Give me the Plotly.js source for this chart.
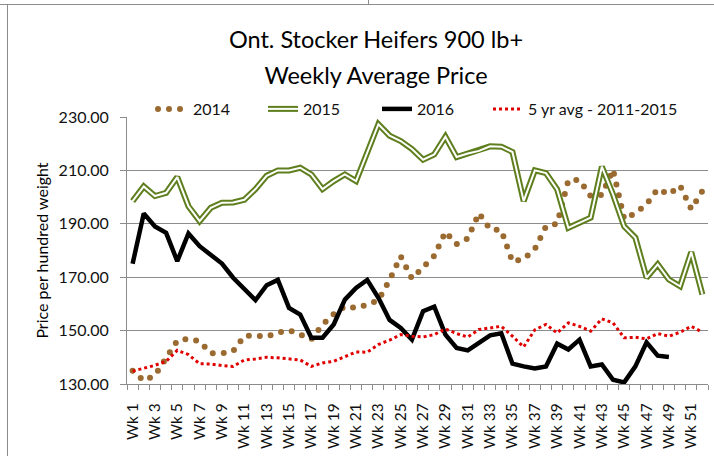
<!DOCTYPE html>
<html>
<head>
<meta charset="utf-8">
<script src="https://cdn.plot.ly/plotly-3.0.1.min.js"></script>
<style>
  html, body { margin: 0; padding: 0; background: #fff; }
  #wrap { position: relative; width: 714px; height: 456px; overflow: hidden; }
  #chart { position: absolute; left: 0; top: 0; width: 714px; height: 456px; }
  .frame-top { position: absolute; left: 0; top: 4px; width: 714px; height: 0; border-top: 1px solid #8c8c8c; }
  .frame-left { position: absolute; left: 7px; top: 4px; width: 0; height: 452px; border-left: 1px solid #8c8c8c; }
  .frame-tick { position: absolute; left: 368px; top: 0; width: 0; height: 4px; border-left: 1px solid #8c8c8c; }
  path[style*="stroke-dasharray: 0px"] { stroke-linecap: round; }
</style>
</head>
<body>
<div id="wrap">
  <div id="chart"></div>
  <div class="frame-top"></div>
  <div class="frame-left"></div>
  <div class="frame-tick"></div>
</div>
<script>
const weeks = ["Wk 1","Wk 2","Wk 3","Wk 4","Wk 5","Wk 6","Wk 7","Wk 8","Wk 9","Wk 10",
  "Wk 11","Wk 12","Wk 13","Wk 14","Wk 15","Wk 16","Wk 17","Wk 18","Wk 19","Wk 20",
  "Wk 21","Wk 22","Wk 23","Wk 24","Wk 25","Wk 26","Wk 27","Wk 28","Wk 29","Wk 30",
  "Wk 31","Wk 32","Wk 33","Wk 34","Wk 35","Wk 36","Wk 37","Wk 38","Wk 39","Wk 40",
  "Wk 41","Wk 42","Wk 43","Wk 44","Wk 45","Wk 46","Wk 47","Wk 48","Wk 49","Wk 50",
  "Wk 51","Wk 52"];

const price2014 = [135, 131.2, 133.2, 139.9, 146.2, 147, 146, 141.5, 141.5, 142.3,
  148, 148.1, 147.7, 149.2, 150.1, 148.5, 146.7, 152.2, 156.2, 159.1,
  158.5, 159.7, 161.4, 168.9, 177.8, 169.5, 174, 178, 187, 182.4,
  184.5, 194, 188, 187.6, 175.8, 176.8, 180.5, 189, 190.1, 206.3,
  206.4, 200.4, 200.8, 210.3, 191.8, 194, 197.3, 203, 201, 204.3,
  195.5, 202.3];

const price2015 = [198.5, 204, 200.4, 201.6, 207.5, 196.6, 191, 196, 197.9, 198,
  199, 203, 208, 210, 210, 211, 208.5, 203, 206, 208.5,
  206, 216.6, 227.3, 223, 221, 218, 214, 216, 222.6, 215,
  216.3, 217.3, 219, 218.9, 216.9, 198.5, 210, 209, 202.9, 188.5,
  190.4, 192.3, 211.4, 201, 189, 184.8, 169.8, 174.8, 169.1, 166.6,
  179.4, 163.5];

const price2016 = [175, 193.9, 189, 186.6, 176, 186.4, 181.6, 178.3, 175.1, 169.8,
  165.6, 161.4, 167, 169, 158.5, 156, 147.3, 147.3, 152.3, 161.6,
  166, 169, 162.3, 154, 151, 146.6, 157.3, 159, 148.5, 143.5,
  142.6, 145.4, 148.2, 149, 137.6, 136.6, 135.8, 136.6, 145.1, 142.9,
  146.6, 136.6, 137.3, 131.6, 130.6, 136.6, 145.6, 140.6, 140.1];

const avg5yr = [134.8, 136, 137, 138.5, 142.6, 141, 137.6, 137.5, 136.9, 136.6,
  139, 139.4, 140, 139.8, 139.4, 139, 136.6, 137.9, 138.5, 140.4,
  142, 141.9, 144.8, 146.4, 148.5, 147.9, 147.6, 148.5, 150.6, 148.9,
  147.6, 150.4, 151, 151.6, 147.9, 143.9, 150.3, 152.3, 149.1, 152.9,
  151.6, 149.8, 154.4, 152.9, 147.3, 147.5, 146.9, 148.9, 147.9, 149.4,
  151.6, 149.4];

const seriesNames = ["2014", "2015", "2016", "5 yr avg - 2011-2015"];
const yTicks = [130, 150, 170, 190, 210, 230];

const xPos = weeks.map((w, i) => i + 1);
const labelIdx = xPos.filter(v => v % 2 === 1);
const labelText = labelIdx.map(v => weeks[v - 1]);
const boundaries = [0.5].concat(xPos.map(v => v + 0.5));

const FONT = "Lato, 'Open Sans', sans-serif";
const GRID = "#8c8c8c";

const traces = [
  { x: xPos, y: price2014, name: seriesNames[0], mode: "lines", legend: "legend",
    line: { color: "#9a6a30", width: 6, dash: "0px,11px" } },
  { x: xPos, y: price2015, name: seriesNames[1], mode: "lines", legend: "legend2",
    line: { color: "#5f7f1f", width: 6 } },
  // white core of the 2015 double line; its legend entry sits on top of the green one
  { x: xPos, y: price2015, name: " ", mode: "lines", legend: "legend5",
    hoverinfo: "skip", line: { color: "#ffffff", width: 2 } },
  { x: xPos.slice(0, price2016.length), y: price2016, name: seriesNames[2], mode: "lines",
    legend: "legend3", line: { color: "#000000", width: 4.5 } },
  { x: xPos, y: avg5yr, name: seriesNames[3], mode: "lines", legend: "legend4",
    line: { color: "#e00000", width: 3, dash: "3px,3px" } }
];

function legendAt(xpx) {
  return {
    orientation: "h", x: (xpx - 127) / 581, xanchor: "left",
    y: 1.03, yanchor: "middle",
    font: { family: FONT, size: 16, color: "#111" },
    bgcolor: "rgba(0,0,0,0)", borderwidth: 0
  };
}

const layout = {
  width: 714, height: 456,
  margin: { l: 127, r: 6, t: 117, b: 72, pad: 0 },
  paper_bgcolor: "#ffffff", plot_bgcolor: "#ffffff",
  font: { family: FONT, color: "#111", size: 15 },
  showlegend: true,
  title: {
    text: "<span style='font-size:23.5px'>Ont. Stocker Heifers 900 lb+</span><br>" +
          "<span style='font-size:23.5px'>Weekly Average Price</span>",
    font: { family: FONT, size: 27.7, color: "#000" },
    x: 376 / 714, xref: "container", xanchor: "center",
    y: 0.895, yref: "container", yanchor: "top"
  },
  legend: legendAt(153),
  legend2: legendAt(263),
  legend5: legendAt(263),
  legend3: legendAt(377),
  legend4: legendAt(488),
  xaxis: {
    range: [0.5, 52.5], showgrid: false, zeroline: false,
    showline: true, linecolor: GRID, linewidth: 1,
    tickmode: "array", tickvals: labelIdx, ticktext: labelText,
    ticks: "", tickangle: -90, ticklabelstandoff: 12,
    tickfont: { family: FONT, size: 15.5, color: "#111" },
    minor: { tickmode: "array", tickvals: boundaries, ticks: "outside",
             ticklen: 5, tickcolor: GRID, tickwidth: 1, showgrid: false }
  },
  yaxis: {
    range: [130, 230], tickmode: "array", tickvals: yTicks,
    tickformat: ".2f", showgrid: true, gridcolor: GRID, gridwidth: 1,
    zeroline: false, showline: true, linecolor: GRID, linewidth: 1,
    ticks: "outside", ticklen: 6, tickcolor: GRID, ticklabelstandoff: 8,
    tickfont: { family: FONT, size: 16, color: "#111" },
    title: { text: "Price per hundred weight", standoff: 6,
             font: { family: FONT, size: 16, color: "#000" } }
  }
};

Plotly.newPlot("chart", traces, layout, { staticPlot: true, displayModeBar: false });
</script>
</body>
</html>
